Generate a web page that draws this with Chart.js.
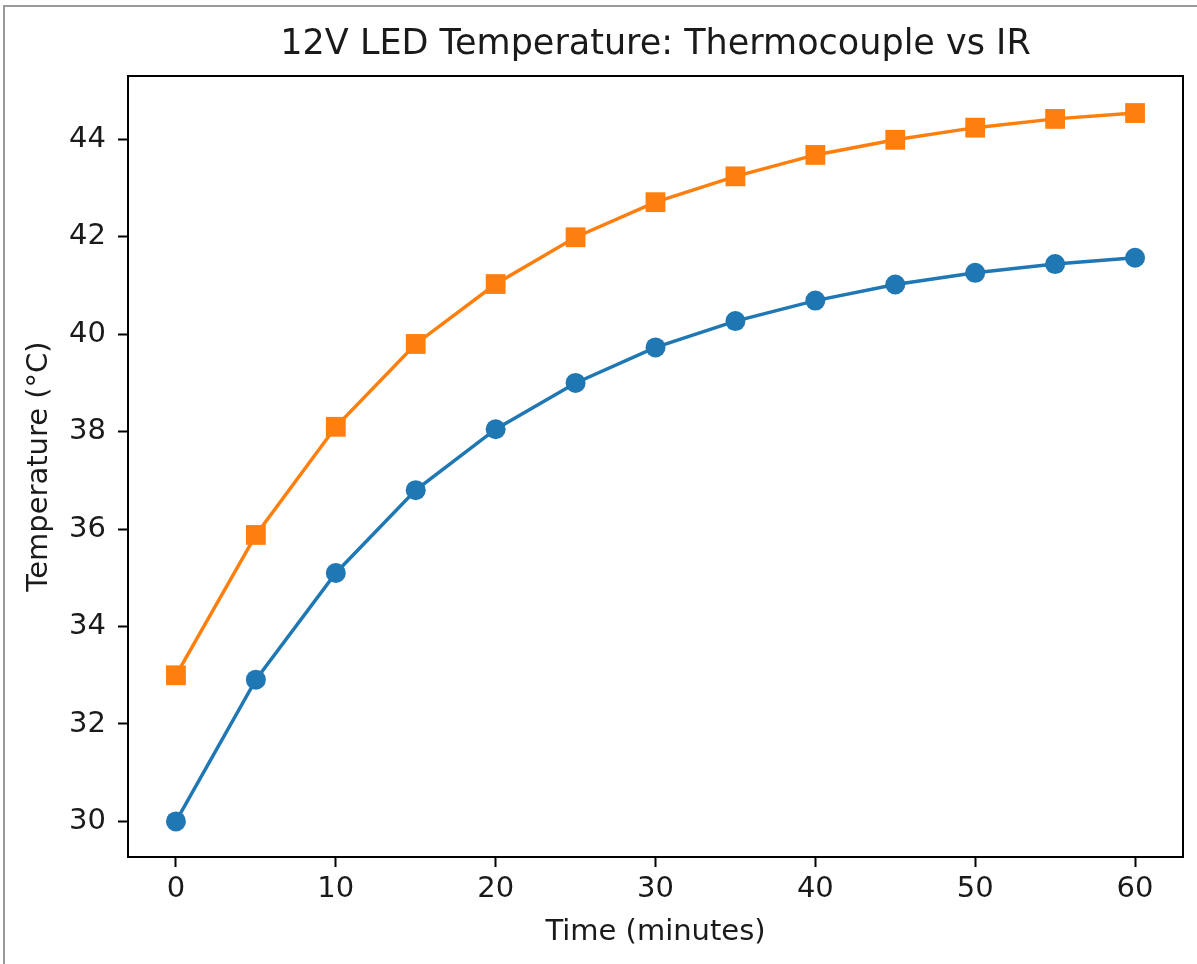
<!DOCTYPE html>
<html>
<head>
<meta charset="utf-8">
<script src="https://cdn.jsdelivr.net/npm/chart.js@4/dist/chart.umd.min.js"></script>
<style>
    html, body { margin: 0; padding: 0; background: #fff; }
    #wrap { position: relative; width: 1197px; height: 964px; overflow: hidden; }
    #frame {
        position: absolute; left: 3px; top: 5px; right: -10px; bottom: -10px;
        border-left: 2px solid #9a9a9a; border-top: 2px solid #9a9a9a;
    }
    #chart { position: absolute; left: 0; top: 0; }
</style>
</head>
<body>
<div id="wrap">
    <div id="frame"></div>
    <canvas id="chart" width="1197" height="964"></canvas>
</div>
<script>
// --- Chart data ---
const timeMinutes = [0, 5, 10, 15, 20, 25, 30, 35, 40, 45, 50, 55, 60];
const thermocoupleTemp = [30.0, 32.91, 35.10, 36.80, 38.05, 39.00, 39.73, 40.27, 40.69, 41.02, 41.26, 41.44, 41.57];
const irTemp = [33.0, 35.88, 38.10, 39.80, 41.03, 41.99, 42.71, 43.24, 43.68, 43.99, 44.24, 44.42, 44.54];

const xTicks = [0, 10, 20, 30, 40, 50, 60];
const yTicks = [30, 32, 34, 36, 38, 40, 42, 44];

const FONT = "'DejaVu Sans', sans-serif";
const TEXT = '#1a1a1a';

// Draw the top and right spines (Chart.js only draws the axis lines)
const boxPlugin = {
    id: 'box',
    afterDraw(chart) {
        const { ctx, chartArea: a } = chart;
        ctx.save();
        ctx.strokeStyle = '#000';
        ctx.lineWidth = 2;
        ctx.strokeRect(a.left, a.top, a.right - a.left, a.bottom - a.top);
        ctx.restore();
    }
};

function toXY(ys) {
    return timeMinutes.map((t, i) => ({ x: t, y: ys[i] }));
}

new Chart(document.getElementById('chart'), {
    type: 'line',
    data: {
        datasets: [{
            label: 'Thermocouple',
            data: toXY(thermocoupleTemp),
            borderColor: '#1f77b4',
            backgroundColor: '#1f77b4',
            borderWidth: 3.5,
            pointStyle: 'circle',
            pointRadius: 10,
            pointBorderWidth: 0,
            tension: 0
        }, {
            label: 'IR',
            data: toXY(irTemp),
            borderColor: '#ff7f0e',
            backgroundColor: '#ff7f0e',
            borderWidth: 3.5,
            pointStyle: 'rect',
            pointRadius: 14,
            pointBorderWidth: 0,
            tension: 0
        }]
    },
    options: {
        responsive: false,
        animation: false,
        layout: { padding: { left: 0, top: 0, right: 10, bottom: 0 } },
        plugins: {
            legend: { display: false },
            tooltip: { enabled: false },
            title: {
                display: true,
                fullSize: false,
                text: '12V LED Temperature: Thermocouple vs IR',
                color: TEXT,
                font: { family: FONT, size: 35, weight: 'normal' },
                padding: { top: 24, bottom: 10 }
            }
        },
        scales: {
            x: {
                type: 'linear',
                min: -3,
                max: 63,
                afterBuildTicks: scale => { scale.ticks = xTicks.map(v => ({ value: v })); },
                afterFit: scale => {
                    scale.height = 107;
                    scale.paddingLeft = 0;
                    scale.paddingRight = 0;
                },
                grid: { drawOnChartArea: false, drawTicks: true, tickLength: 10, tickWidth: 2, tickColor: '#000' },
                border: { display: true, color: '#000', width: 2 },
                ticks: { color: TEXT, font: { family: FONT, size: 29 }, padding: 5, maxRotation: 0 },
                title: {
                    display: true,
                    text: 'Time (minutes)',
                    color: TEXT,
                    font: { family: FONT, size: 29 },
                    padding: { top: 0, bottom: 14 }
                }
            },
            y: {
                type: 'linear',
                min: 29.27,
                max: 45.3,
                afterBuildTicks: scale => { scale.ticks = yTicks.map(v => ({ value: v })); },
                afterFit: scale => { scale.width = 128; },
                grid: { drawOnChartArea: false, drawTicks: true, tickLength: 10, tickWidth: 2, tickColor: '#000' },
                border: { display: true, color: '#000', width: 2 },
                ticks: { color: TEXT, font: { family: FONT, size: 29 }, padding: 12 },
                title: {
                    display: true,
                    text: 'Temperature (°C)',
                    color: TEXT,
                    font: { family: FONT, size: 29 },
                    padding: { top: 22, bottom: 0 }
                }
            }
        }
    },
    plugins: [boxPlugin]
});
</script>
</body>
</html>
